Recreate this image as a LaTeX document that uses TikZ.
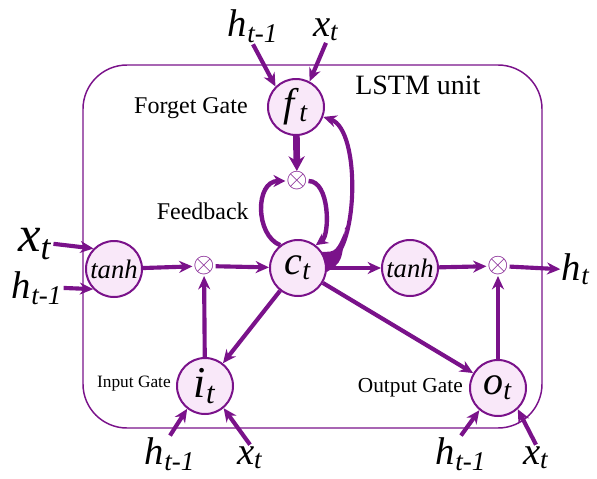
\documentclass[tikz,border=0pt]{standalone}
\usepackage{fontspec}
\setmainfont{Liberation Serif}
\usetikzlibrary{arrows.meta,positioning,calc}

\definecolor{lila}{RGB}{122,18,138}
\definecolor{lilaclaro}{RGB}{249,232,249}
\newcommand{\vsub}[2]{\textit{#1}\textsubscript{\textit{#2}}}

\begin{document}
\begin{tikzpicture}[x=0.75pt, y=-0.75pt]

	\tikzstyle{nodo}=[circle, draw=lila, fill=lilaclaro, line width=1.5pt, inner sep=0pt, minimum size=42pt, font=\fontsize{30}{30}\selectfont]
	\tikzstyle{act}=[nodo, font=\fontsize{20}{20}\selectfont\itshape]
	\tikzstyle{mult}=[lila, inner sep=0.4pt, font=\fontsize{21}{21}\selectfont]
	\tikzstyle{flecha}=[-{Stealth[length=10pt, width=9pt]}, lila, line width=3.1pt]
	\tikzstyle{gruesa}=[-{Stealth[length=11pt, width=12pt]}, lila, line width=5pt]
	\tikzstyle{lazo}=[-{Stealth[length=9pt, width=9pt]}, lila, line width=3.3pt]
	\tikzstyle{ent}=[anchor=base, inner sep=1pt, font=\fontsize{29}{29}\selectfont]
	\tikzstyle{etiq}=[anchor=east, inner sep=0pt, font=\fontsize{18}{18}\selectfont]

	\useasboundingbox (0,0) rectangle (597,479);

	\draw[lila, line width=1.1pt, rounded corners=33pt] (83,65) rectangle (542,428); % UNIDAD

	\coordinate (g_f) at (296, 107); % FORGET
	\coordinate (m_c) at (297, 181); % FEEDBACK
	\coordinate (c_t) at (298, 268); % CELDA
	\coordinate (tanh_1) at (114, 269); % ENTRADA
	\coordinate (m_1) at (204, 266); % ENTRADA
	\coordinate (tanh_2) at (410, 268); % SALIDA
	\coordinate (m_2) at (498, 266); % SALIDA
	\coordinate (g_i) at (205, 386); % INPUT
	\coordinate (g_o) at (498, 388); % OUTPUT

	\node[nodo] (g_f) at (g_f) {\vsub{f}{t}};
	\node[mult] (m_c) at (m_c) {$\otimes$};
	\node[nodo] (c_t) at (c_t) {\vsub{c}{t}};
	\node[act] (tanh_1) at (tanh_1) {tanh};
	\node[mult] (m_1) at (m_1) {$\otimes$};
	\node[act] (tanh_2) at (tanh_2) {tanh};
	\node[mult] (m_2) at (m_2) {$\otimes$};
	\node[nodo, font=\fontsize{33}{33}\selectfont] (g_i) at (g_i) {\vsub{i}{t}};
	\node[nodo] (g_o) at (g_o) {\vsub{o}{t}};

	\node[ent] (h_f) at (253, 36) {\vsub{h}{t-1}};
	\node[ent] (x_f) at (326, 36) {\vsub{x}{t}};
	\node[ent, font=\fontsize{38}{38}\selectfont] (x_1) at (35, 251) {\vsub{x}{t}};
	\node[ent] (h_1) at (37, 298) {\vsub{h}{t-1}};
	\node[ent] (h_i) at (170, 464) {\vsub{h}{t-1}};
	\node[ent] (x_i) at (250, 464) {\vsub{x}{t}};
	\node[ent] (h_o) at (461, 464) {\vsub{h}{t-1}};
	\node[ent] (x_o) at (536, 464) {\vsub{x}{t}};
	\node[ent] (h_t) at (576, 280) {\vsub{h}{t}};

	\node[etiq] at (248, 108) {Forget Gate};
	\node[etiq] at (249, 211) {Feedback};
	\node[etiq, font=\fontsize{13}{13}\selectfont] at (171, 384) {Input Gate};
	\node[etiq, font=\fontsize{16}{16}\selectfont] at (463, 388) {Output Gate};
	\node[anchor=west, inner sep=0pt, font=\fontsize{21}{21}\selectfont] at (355, 85) {LSTM unit};

	\draw[flecha] (h_f.south) -- (g_f.135);
	\draw[flecha] (x_f.south) -- (g_f.62);
	\draw[flecha] (x_1.east) -- (tanh_1.135);
	\draw[flecha] (h_1.east) -- (tanh_1.224);
	\draw[flecha] (h_i.north) -- (g_i.232);
	\draw[flecha] (x_i.north) -- (g_i.-50);
	\draw[flecha] (h_o.north) -- (g_o.230);
	\draw[flecha] (x_o.north) -- (g_o.-47);

	\draw[gruesa] (g_f) -- (m_c);
	\draw[lazo] (c_t.128) .. controls (255,235) and (255,181) .. (m_c.west);
	\draw[lazo] (m_c.east) .. controls (330,181) and (330,235) .. (c_t.52);

	% retorno hacia la puerta de olvido
	\fill[lila] (c_t.34) .. controls (336,252) .. (347,226) -- (345,228) .. controls (342,262) .. (c_t.-8) -- cycle;
	\draw[flecha] (c_t.12) .. controls (358,258) and (362,130) .. (g_f.-20);

	\draw[flecha] (tanh_1) -- (m_1);
	\draw[flecha] (m_1) -- (c_t);
	\draw[flecha] (g_i) -- (m_1);
	\draw[flecha] (c_t) -- (g_i);
	\draw[flecha] (c_t) -- (tanh_2);
	\draw[flecha] (tanh_2) -- (m_2);
	\draw[flecha] (m_2) -- (h_t.west);
	\draw[flecha] (g_o) -- (m_2);
	\draw[flecha] (c_t) -- (g_o);

\end{tikzpicture}
\end{document}
